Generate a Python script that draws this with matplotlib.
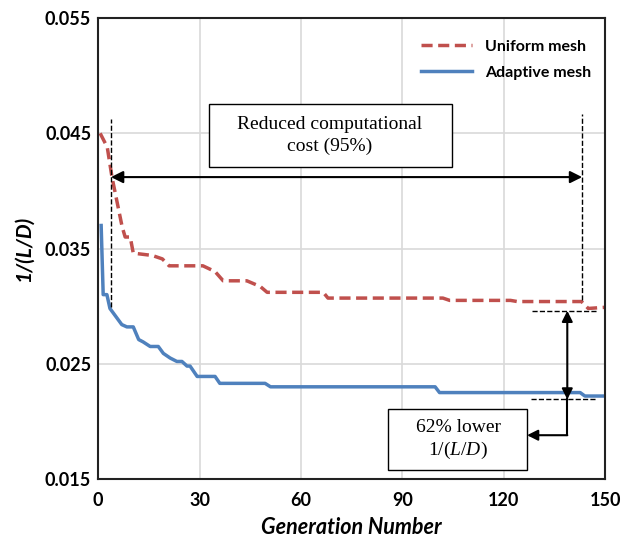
import matplotlib.pyplot as plt
from matplotlib.patches import Rectangle

# Uniform mesh history (generation, 1/(L/D))
gen_uniform = [0.6, 2.7, 4.1, 7.1, 8.0, 9.5, 10.4, 16, 19, 21, 31, 34.6, 37, 44,
               48, 50, 66.6, 68, 102, 104, 122, 124, 143, 145, 150]
val_uniform = [0.0450, 0.0438, 0.0412, 0.0369, 0.0360, 0.0360, 0.0346, 0.0344,
               0.0341, 0.0335, 0.0335, 0.0330, 0.0322, 0.0322, 0.0317, 0.0312,
               0.0312, 0.0307, 0.0307, 0.0305, 0.0305, 0.0304, 0.0304, 0.0298,
               0.0299]

# Adaptive mesh history
gen_adaptive = [0.9, 1.5, 2.6, 3.5, 5, 7, 8.5, 10.4, 12, 13.3, 15.4, 17.8, 19.3,
                21.3, 23.3, 24.8, 26.3, 27.2, 29.3, 34.6, 36, 49.4, 51, 99.7,
                101, 142.6, 144, 150]
val_adaptive = [0.0370, 0.0310, 0.0310, 0.0298, 0.0292, 0.0284, 0.0282, 0.0282,
                0.0271, 0.0269, 0.0265, 0.0265, 0.0259, 0.0255, 0.0252, 0.0252,
                0.0248, 0.0248, 0.0239, 0.0239, 0.0233, 0.0233, 0.0230, 0.0230,
                0.0225, 0.0225, 0.0222, 0.0222]

xticks = [0, 30, 60, 90, 120, 150]
yticks = [0.015, 0.025, 0.035, 0.045, 0.055]

red = '#C0504D'
blue = '#4F81BD'
sans = 'Lato'
serif = 'Liberation Serif'

plt.rcParams['mathtext.fontset'] = 'custom'
plt.rcParams['mathtext.it'] = 'Liberation Serif:italic'
plt.rcParams['mathtext.rm'] = 'Liberation Serif'

fig = plt.figure(figsize=(6.33, 5.41), dpi=100)
ax = fig.add_axes([0.155, 0.1146, 0.801, 0.852])

ax.grid(True, color='#d9d9d9', linewidth=1.2)
ax.set_axisbelow(True)

ax.plot(gen_uniform, val_uniform, color=red, linewidth=2.5, dashes=(3.2, 1.6),
        label='Uniform mesh')
ax.plot(gen_adaptive, val_adaptive, color=blue, linewidth=2.5,
        label='Adaptive mesh')

ax.set_xlim(0, 150)
ax.set_ylim(0.015, 0.055)
ax.set_xticks(xticks)
ax.set_yticks(yticks)
ax.set_xticklabels([str(t) for t in xticks], fontsize=13, fontweight='bold',
                   family=sans)
ax.set_yticklabels(['%.3f' % t for t in yticks], fontsize=13,
                   fontweight='bold', family=sans)
ax.tick_params(length=0)
ax.tick_params(axis='x', pad=9)
ax.tick_params(axis='y', pad=5)
for s in ax.spines.values():
    s.set_linewidth(1.5)
    s.set_color('#222222')

ax.set_xlabel('Generation Number', fontsize=15.5, fontweight='bold',
              style='italic', family=sans, labelpad=6)
ax.set_ylabel('1/(L/D)', fontsize=15, fontweight='bold', style='italic',
              family=sans, labelpad=8)

leg = ax.legend(loc='upper right', bbox_to_anchor=(1.0, 0.985), frameon=False,
                prop={'family': sans, 'weight': 'bold', 'size': 11.5},
                handlelength=3.2, labelspacing=0.75)

# cost reduction annotation
ax.plot([3.8, 3.8], [0.0299, 0.0462], color='black', linestyle='--',
        linewidth=1)
ax.plot([143.2, 143.2], [0.0305, 0.0467], color='black', linestyle='--',
        linewidth=1)
ax.annotate('', xy=(3.8, 0.0412), xytext=(143.2, 0.0412),
            arrowprops=dict(arrowstyle='<|-|>', color='black', lw=1.5,
                            mutation_scale=18, shrinkA=0, shrinkB=0))
ax.add_patch(Rectangle((32.8, 0.04207), 71.9, 0.00547, facecolor='white',
                       edgecolor='black', linewidth=1, zorder=4))
ax.text(68.6, 0.0448, 'Reduced computational\ncost (95%)', family=serif,
        fontsize=14, ha='center', va='center', linespacing=1.3, zorder=5)

# objective improvement annotation
ax.plot([128.5, 147.7], [0.0296, 0.0296], color='black', linestyle='--',
        linewidth=1)
ax.plot([128.2, 147.2], [0.0219, 0.0219], color='black', linestyle='--',
        linewidth=1)
ax.annotate('', xy=(138.8, 0.0296), xytext=(138.8, 0.0219),
            arrowprops=dict(arrowstyle='<|-|>', color='black', lw=1.5,
                            mutation_scale=16, shrinkA=0, shrinkB=0))
ax.plot([138.8, 138.8], [0.0219, 0.0188], color='black', linewidth=1.5)
ax.annotate('', xy=(126.9, 0.0188), xytext=(138.8, 0.0188),
            arrowprops=dict(arrowstyle='-|>', color='black', lw=1.5,
                            mutation_scale=16, shrinkA=0, shrinkB=0))
ax.add_patch(Rectangle((85.8, 0.01578), 41.1, 0.00529, facecolor='white',
                       edgecolor='black', linewidth=1, zorder=4))
ax.text(106.5, 0.0184, '62% lower\n1/($L$/$D$)', family=serif, fontsize=14,
        ha='center', va='center', linespacing=1.3, zorder=5)

fig.savefig('out.png', dpi=100)
